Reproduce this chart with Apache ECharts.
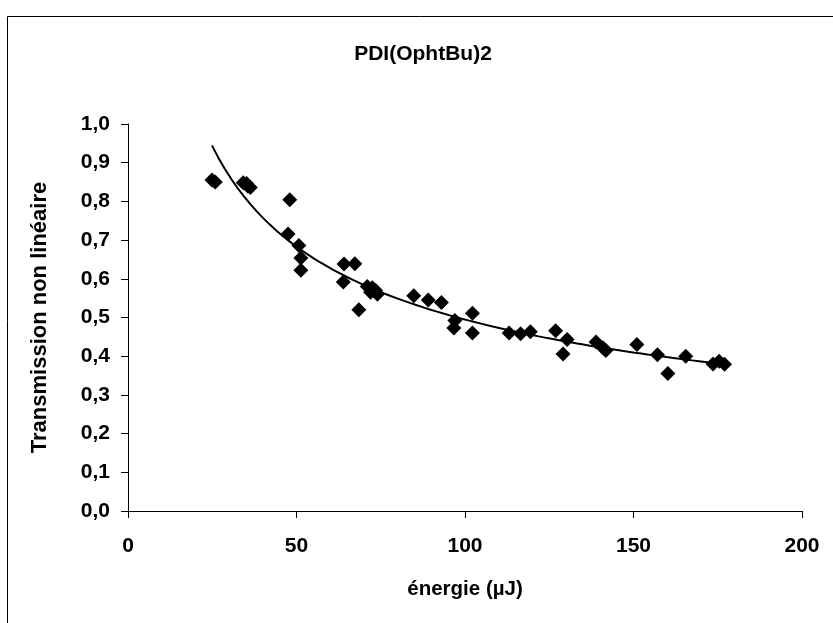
<!DOCTYPE html>
<html>
<head>
<meta charset="utf-8">
<title>PDI(OphtBu)2</title>
<script src="https://cdn.jsdelivr.net/npm/echarts@6/dist/echarts.min.js"></script>
<style>
  html, body { margin: 0; padding: 0; background: #fff; }
  #chart { width: 833px; height: 623px; }
</style>
</head>
<body>
<div id="chart"></div>
<script>
var energie = [24.9, 25.9, 34.2, 35.2, 35.5, 36.3, 47.5, 48.0, 50.7, 51.3, 51.3, 63.9, 64.1, 67.3, 68.5,
  71.0, 72.0, 72.5, 73.5, 74.0, 84.8, 89.1, 93.0, 96.7, 97.0, 102.2, 102.2, 113.1, 116.5, 119.4,
  126.9, 129.1, 130.3, 138.9, 141.0, 141.8, 151.0, 157.1, 160.2, 165.5, 173.6, 175.4, 177.0]
var transmission = [0.855, 0.85, 0.848, 0.846, 0.84, 0.836, 0.716, 0.804, 0.686, 0.654, 0.622, 0.592, 0.638, 0.639, 0.52,
  0.58, 0.565, 0.577, 0.57, 0.56, 0.556, 0.545, 0.539, 0.473, 0.492, 0.511, 0.46, 0.46, 0.458, 0.463,
  0.466, 0.406, 0.443, 0.437, 0.421, 0.415, 0.43, 0.404, 0.355, 0.40, 0.38, 0.387, 0.379]
var xTicks = [0, 50, 100, 150, 200]
var yTicks = [0, 0.1, 0.2, 0.3, 0.4, 0.5, 0.6, 0.7, 0.8, 0.9, 1.0]

var points = energie.map(function (x, i) { return [x, transmission[i]] })

// courbe de tendance puissance (moindres carres sur ln/ln, comme Excel)
function powerFit(xs, ys) {
  var n = xs.length, sx = 0, sy = 0, sxx = 0, sxy = 0
  for (var i = 0; i < n; i++) {
    var lx = Math.log(xs[i]), ly = Math.log(ys[i])
    sx += lx; sy += ly; sxx += lx * lx; sxy += lx * ly
  }
  var b = (n * sxy - sx * sy) / (n * sxx - sx * sx)
  var a = Math.exp((sy - b * sx) / n)
  return { a: a, b: b }
}
var fit = powerFit(energie, transmission)
var xMin = Math.min.apply(null, energie), xMax = Math.max.apply(null, energie)
var tendance = []
for (var k = 0; k <= 80; k++) {
  var xv = xMin + (xMax - xMin) * k / 80
  tendance.push([xv, fit.a * Math.pow(xv, fit.b)])
}

var font = 'Liberation Sans, Arial, sans-serif'
var chart = echarts.init(document.getElementById('chart'))
chart.setOption({
  animation: false,
  title: {
    text: 'PDI(OphtBu)2',
    left: 418,
    top: 39,
    textAlign: 'center',
    textStyle: { fontFamily: font, fontSize: 21, fontWeight: 'bold', color: '#000' }
  },
  graphic: [{
    type: 'rect',
    shape: { x: 7.5, y: 16.5, width: 900, height: 700 },
    style: { fill: null, stroke: '#000', lineWidth: 1 },
    silent: true
  }],
  grid: { left: 128, right: 31, top: 124, bottom: 112 },
  xAxis: {
    type: 'value',
    min: xTicks[0],
    max: xTicks[xTicks.length - 1],
    interval: xTicks[1] - xTicks[0],
    name: 'énergie (µJ)',
    nameLocation: 'middle',
    nameGap: 68,
    nameTextStyle: { fontFamily: font, fontSize: 20.5, fontWeight: 'bold', color: '#000' },
    axisLine: { show: true, onZero: false, lineStyle: { color: '#000', width: 1 } },
    axisTick: { show: true, inside: false, length: 7, lineStyle: { color: '#000' } },
    axisLabel: { margin: 25, fontFamily: font, fontSize: 21, fontWeight: 'bold', color: '#000' },
    splitLine: { show: false }
  },
  yAxis: {
    type: 'value',
    min: yTicks[0],
    max: yTicks[yTicks.length - 1],
    interval: 0.1,
    name: 'Transmission non linéaire',
    nameLocation: 'middle',
    nameGap: 77,
    nameTextStyle: { fontFamily: font, fontSize: 22, fontWeight: 'bold', color: '#000' },
    axisLine: { show: true, onZero: false, lineStyle: { color: '#000', width: 1 } },
    axisTick: { show: true, inside: false, length: 7, lineStyle: { color: '#000' } },
    axisLabel: {
      margin: 18, fontFamily: font, fontSize: 21, fontWeight: 'bold', color: '#000',
      formatter: function (v) { return v.toFixed(1).replace('.', ',') }
    },
    splitLine: { show: false }
  },
  series: [{
    name: 'mesures',
    type: 'scatter',
    symbol: 'diamond',
    symbolSize: 15,
    itemStyle: { color: '#000', opacity: 1 },
    data: points,
    z: 3
  }, {
    name: 'tendance',
    type: 'line',
    showSymbol: false,
    lineStyle: { color: '#000', width: 2 },
    data: tendance,
    z: 2
  }]
})
</script>
</body>
</html>
